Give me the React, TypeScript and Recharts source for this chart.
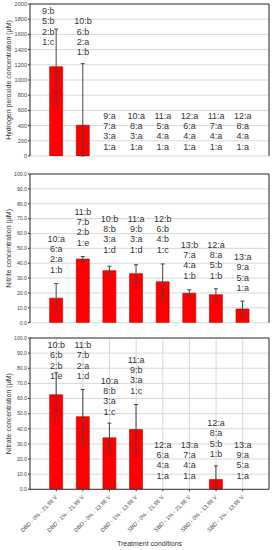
import React from 'react';
import { ComposedChart, Bar, Line, XAxis, YAxis, CartesianGrid, ErrorBar, LabelList } from 'recharts';

const categories = [
  'DBD - 0% - 21.88 V', 'DBD - 1% - 21.88 V', 'DBD - 0% - 13.88 V', 'DBD - 1% - 13.88 V',
  'SBD - 0% - 21.88 V', 'SBD - 1% - 21.88 V', 'SBD - 0% - 13.88 V', 'SBD - 1% - 13.88 V',
];

// hydrogen peroxide
const h2o2Values = [1175, 405, 0, 0, 0, 0, 0, 0];
const h2o2Errors: ([number, number] | null)[] = [[490, 495], [405, 810], null, null, null, null, null, null];
const h2o2Letters = [
  '9:b|5:b|2:b|1:c', '10:b|6:b|2:a|1:b', '9:a|7:a|3:a|1:a', '10:a|8:a|3:a|1:a',
  '11:a|5:a|4:a|1:a', '12:a|6:a|4:a|1:a', '11:a|7:a|4:a|1:a', '12:a|8:a|4:a|1:a',
];
const h2o2LabelPos = [1500, 1364, 123, 123, 123, 123, 123, 123];
const h2o2Ticks = [0, 200, 400, 600, 800, 1000, 1200, 1400, 1600, 1800, 2000];

// nitrite
const nitriteValues = [16.5, 42.8, 35, 33, 27.5, 19.8, 18.8, 9.2];
const nitriteErrors: ([number, number] | null)[] = [[9.8, 9.8], [1.7, 1.7], [3, 3], [6, 6], [12, 12], [2.3, 2.3], [4, 4], [4.7, 5.3]];
const nitriteLetters = [
  '10:a|6:a|2:a|1:b', '11:b|7:b|2:b|1:e', '10:b|8:b|3:a|1:d', '11:a|9:b|3:a|1:d',
  '12:b|6:b|4:b|1:c', '13:b|7:a|4:a|1:b', '12:a|8:a|5:b|1:b', '13:a|9:a|5:a|1:a',
];
const nitriteLabelPos = [35.7, 53.8, 49.2, 49.2, 49.2, 31.6, 31.6, 23.3];

// nitrate
const nitrateValues = [62.5, 48, 34, 39.5, 0, 0, 6.5, 0];
const nitrateErrors: ([number, number] | null)[] = [[14.5, 14.5], [18, 18], [9.7, 9.7], [16, 16.5], null, null, [6.5, 9], null];
const nitrateLetters = [
  '10:b|6:b|2:b|1:e', '11:b|7:b|2:a|1:d', '10:a|8:b|3:a|1:c', '11:a|9:b|3:a|1:c',
  '12:a|6:a|4:a|1:a', '13:a|7:a|4:a|1:a', '12:a|8:a|5:b|1:b', '13:a|9:a|5:a|1:a',
];
const nitrateLabelPos = [74.9, 74.9, 51.4, 65.2, 9.0, 9.0, 23.3, 9.0];

const pctTicks = [0, 10, 20, 30, 40, 50, 60, 70, 80, 90, 100];

const AXIS = '#333';
const GRID = '#d9d9d9';
const FONT = '"Liberation Sans", Arial, sans-serif';

function LetterLabel(props: any) {
  const { x, y, value, index, shiftFirst } = props;
  if (value == null) return null;
  const lines = String(value).split('|');
  const n = lines.length;
  const cx = x + (index === 0 && shiftFirst ? -8 : 0);
  return (
    <g>
      {lines.map((t, i) => (
        <text key={i} x={cx} y={y - (n - 1 - i) * 10.3} textAnchor="middle" dominantBaseline="central"
          fontSize={9} fontFamily={FONT} fill="#333">{t}</text>
      ))}
    </g>
  );
}

function SlantTick(props: any) {
  const { x, y, payload } = props;
  return (
    <text x={x} y={y + 3} transform={`rotate(-45 ${x} ${y + 3})`} textAnchor="end" dominantBaseline="central"
      fontSize={5.6} fontFamily={FONT} fill="#444">{payload.value}</text>
  );
}

type PanelProps = {
  height: number;
  top: number;
  bottom: number;
  values: number[];
  errors: ([number, number] | null)[];
  letters: string[];
  labelPos: number[];
  max: number;
  ticks: number[];
  yLabel: string;
  decimals: number;
  showX?: boolean;
  shiftFirst?: boolean;
  xHeight: number;
};

function Panel(p: PanelProps) {
  const data = categories.map((c, i) => ({
    name: c,
    value: p.values[i],
    err: p.errors[i],
    pos: p.labelPos[i],
    letters: p.letters[i],
  }));
  return (
    <ComposedChart width={272} height={p.height} data={data}
      margin={{ top: p.top - 1, right: 3, left: 0, bottom: p.bottom }} barCategoryGap="25%">
      <CartesianGrid stroke={GRID} strokeWidth={1} />
      <XAxis dataKey="name" interval={0} padding={{ left: 13, right: 13 }} height={p.xHeight}
        stroke={AXIS} tickSize={p.showX ? 2 : 0}
        tick={p.showX ? <SlantTick /> : false}
        label={p.showX ? { value: 'Treatment conditions', position: 'insideBottom', offset: 2, fontSize: 7, fontFamily: FONT, fill: '#333' } : undefined} />
      <XAxis xAxisId="top" dataKey="name" orientation="top" interval={0} padding={{ left: 13, right: 13 }} height={1}
        stroke={AXIS} mirror tickSize={3} tick={false} />
      <YAxis domain={[0, p.max]} ticks={p.ticks} allowDataOverflow width={30} stroke={AXIS} tickSize={2} tickMargin={1}
        interval={0}
        tick={{ fontSize: p.decimals ? 5.2 : 5.6, fontFamily: FONT, fill: '#444' }}
        tickFormatter={(v: number) => v.toFixed(p.decimals)}
        label={{ value: p.yLabel, angle: -90, position: 'center', dx: -6, fontSize: 7, fontFamily: FONT, fill: '#333' }} />
      <YAxis yAxisId="right" orientation="right" domain={[0, p.max]} ticks={p.ticks} allowDataOverflow width={1}
        stroke={AXIS} mirror tickSize={3} tick={false} interval={0} />
      <Bar dataKey="value" fill="#ff0000" stroke="#b00000" strokeWidth={0.6} isAnimationActive={false}>
        <ErrorBar dataKey="err" width={2} stroke="#444" strokeWidth={1} direction="y" />
      </Bar>
      <Line dataKey="pos" stroke="none" dot={false} activeDot={false} isAnimationActive={false} legendType="none">
        <LabelList dataKey="letters" content={<LetterLabel shiftFirst={p.shiftFirst} />} />
      </Line>
    </ComposedChart>
  );
}

export default function App() {
  return (
    <div style={{ position: 'absolute', left: 0, top: 0, width: 272, height: 550, background: '#fff' }}>
      <Panel height={166} top={5} bottom={10} xHeight={0} values={h2o2Values} errors={h2o2Errors}
        letters={h2o2Letters} labelPos={h2o2LabelPos} max={2000} ticks={h2o2Ticks}
        yLabel="Hydrogen peroxide concentration (µM)" decimals={0} shiftFirst />
      <Panel height={162} top={9} bottom={5.3} xHeight={0} values={nitriteValues} errors={nitriteErrors}
        letters={nitriteLetters} labelPos={nitriteLabelPos} max={100} ticks={pctTicks}
        yLabel="Nitrite concentration (µM)" decimals={1} />
      <Panel height={222} top={11} bottom={2} xHeight={58.7} values={nitrateValues} errors={nitrateErrors}
        letters={nitrateLetters} labelPos={nitrateLabelPos} max={100} ticks={pctTicks}
        yLabel="Nitrate concentration (µM)" decimals={1} showX />
    </div>
  );
}
